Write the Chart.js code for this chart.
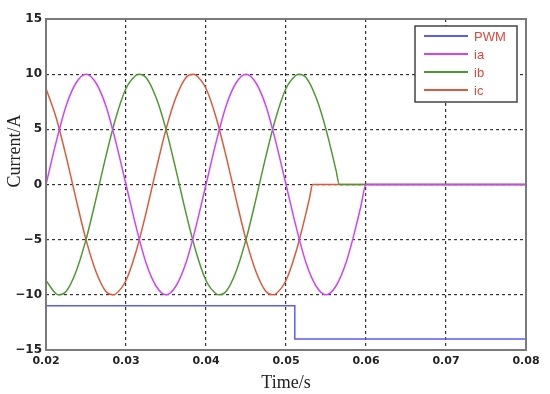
<!DOCTYPE html>
<html>
<head>
<meta charset="utf-8">
<script src="https://cdn.jsdelivr.net/npm/chart.js@4"></script>
<style>html,body{margin:0;padding:0;background:#fff}</style>
</head>
<body>
<canvas id="chart" width="550" height="394"></canvas>
<script>
// Data
const tA = [0.02, 0.02125, 0.0225, 0.02375, 0.025, 0.02625, 0.0275, 0.02875, 0.03, 0.03125, 0.0325,
    0.03375, 0.035, 0.03625, 0.0375, 0.03875, 0.04, 0.04125, 0.0425, 0.04375, 0.045, 0.04625, 0.0475,
    0.04875, 0.05, 0.05125, 0.0525, 0.05375, 0.055, 0.05625, 0.0575, 0.05875, 0.05938, 0.06, 0.08];
const ia = [0, 3.8, 7.1, 9.2, 10, 9.2, 7.1, 3.8, 0, -3.8, -7.1, -9.2, -10, -9.2, -7.1, -3.8, 0,
    3.8, 7.1, 9.2, 10, 9.2, 7.1, 3.8, 0, -3.8, -7.1, -9.2, -10, -9.2, -7.1, -3.8, -1.9, 0, 0];

const tB = [0.02, 0.02125, 0.02167, 0.0225, 0.02375, 0.025, 0.02625, 0.0275, 0.02875, 0.03, 0.03125,
    0.03167, 0.0325, 0.03375, 0.035, 0.03625, 0.0375, 0.03875, 0.04, 0.04125, 0.04167, 0.0425, 0.04375,
    0.045, 0.04625, 0.0475, 0.04875, 0.05, 0.05125, 0.05167, 0.0525, 0.05375, 0.055, 0.05625, 0.05667, 0.08];
const ib = [-8.7, -9.9, -10, -9.7, -7.9, -5.0, -1.3, 2.6, 6.1, 8.7, 9.9,
    10, 9.7, 7.9, 5.0, 1.3, -2.6, -6.1, -8.7, -9.9, -10, -9.7, -7.9,
    -5.0, -1.3, 2.6, 6.1, 8.7, 9.9, 10, 9.7, 7.9, 5.0, 1.3, 0, 0];

const tC = [0.02, 0.02125, 0.0225, 0.02375, 0.025, 0.02625, 0.0275, 0.02833, 0.02875, 0.03, 0.03125,
    0.0325, 0.03375, 0.035, 0.03625, 0.0375, 0.03833, 0.03875, 0.04, 0.04125, 0.0425, 0.04375, 0.045,
    0.04625, 0.0475, 0.04833, 0.04875, 0.05, 0.05125, 0.0525, 0.05292, 0.05333, 0.08];
const ic = [8.7, 6.1, 2.6, -1.3, -5.0, -7.9, -9.7, -10, -9.9, -8.7, -6.1,
    -2.6, 1.3, 5.0, 7.9, 9.7, 10, 9.9, 8.7, 6.1, 2.6, -1.3, -5.0,
    -7.9, -9.7, -10, -9.9, -8.7, -6.1, -2.6, -1.3, 0, 0];

const tPWM = [0.02, 0.0511, 0.0511, 0.08];
const pwm = [-11, -11, -14, -14];

const seriesNames = ['PWM', 'ia', 'ib', 'ic'];
const seriesColors = ['#5b5bf5', '#cc44ff', '#4f9a30', '#dd5a3c'];
const xTicks = [0.02, 0.03, 0.04, 0.05, 0.06, 0.07, 0.08];
const yTicks = [-15, -10, -5, 0, 5, 10, 15];

function pts(ts, vs) {
    return ts.map((t, i) => ({ x: t, y: vs[i] }));
}

// Frame, y title and the boxed legend inside the plot
const decorations = {
    id: 'decorations',
    afterDatasetsDraw(chart) {
        const { ctx, chartArea: a } = chart;
        ctx.save();
        ctx.strokeStyle = '#7a7a7a';
        ctx.lineWidth = 2;
        ctx.strokeRect(a.left, a.top, a.right - a.left, a.bottom - a.top);
        ctx.restore();
    },
    afterDraw(chart) {
        const { ctx } = chart;
        ctx.save();
        // y axis title
        ctx.translate(15, 151);
        ctx.rotate(-Math.PI / 2);
        ctx.font = '18px "Liberation Serif"';
        ctx.fillStyle = '#222';
        ctx.textAlign = 'center';
        ctx.textBaseline = 'middle';
        ctx.fillText('Current/A', 0, 0);
        ctx.restore();

        // legend
        ctx.save();
        ctx.fillStyle = '#fff';
        ctx.fillRect(415, 26, 102, 76);
        ctx.strokeStyle = '#444';
        ctx.lineWidth = 1.5;
        ctx.strokeRect(415, 26, 102, 76);
        ctx.font = '13px "Liberation Sans"';
        ctx.textBaseline = 'middle';
        chart.data.datasets.forEach((ds, i) => {
            const y = 36 + i * 18;
            ctx.strokeStyle = ds.borderColor;
            ctx.lineWidth = 2;
            ctx.beginPath();
            ctx.moveTo(424, y);
            ctx.lineTo(468, y);
            ctx.stroke();
            ctx.fillStyle = '#e0473a';
            ctx.fillText(ds.label, 474, y + 1);
        });
        ctx.restore();
    }
};

const lineStyle = { borderWidth: 1.5, pointRadius: 0, fill: false, cubicInterpolationMode: 'monotone' };

new Chart(document.getElementById('chart'), {
    type: 'line',
    data: {
        datasets: [
            { label: seriesNames[0], data: pts(tPWM, pwm), borderColor: seriesColors[0], borderWidth: 1.5, pointRadius: 0, tension: 0 },
            { label: seriesNames[1], data: pts(tA, ia), borderColor: seriesColors[1], ...lineStyle },
            { label: seriesNames[2], data: pts(tB, ib), borderColor: seriesColors[2], ...lineStyle },
            { label: seriesNames[3], data: pts(tC, ic), borderColor: seriesColors[3], ...lineStyle }
        ]
    },
    options: {
        responsive: false,
        animation: false,
        layout: { padding: { top: 19, right: 24, left: 0, bottom: 0 } },
        plugins: { legend: { display: false }, tooltip: { enabled: false } },
        scales: {
            x: {
                type: 'linear',
                min: 0.02,
                max: 0.08,
                afterBuildTicks: scale => { scale.ticks = xTicks.map(v => ({ value: v })); },
                afterFit: scale => { scale.height = 44; },
                ticks: {
                    callback: v => v.toFixed(2),
                    font: { family: 'DejaVu Sans', size: 11, weight: 'bold' },
                    color: '#222',
                    padding: 5,
                    maxRotation: 0
                },
                grid: { color: '#333', lineWidth: 1.2, drawTicks: false },
                border: { display: false, dash: [3, 3] },
                title: {
                    display: true,
                    text: 'Time/s',
                    font: { family: 'Liberation Serif', size: 18 },
                    color: '#222',
                    padding: { top: 0, bottom: 0 }
                }
            },
            y: {
                min: -15,
                max: 15,
                afterBuildTicks: scale => { scale.ticks = yTicks.map(v => ({ value: v })); },
                afterFit: scale => { scale.width = 46; },
                ticks: {
                    callback: v => (v < 0 ? '\u2212' + Math.abs(v) : String(v)),
                    font: { family: 'DejaVu Sans', size: 12, weight: 'bold' },
                    color: '#222',
                    padding: 4
                },
                grid: { color: '#333', lineWidth: 1.2, drawTicks: false },
                border: { display: false, dash: [3, 3] }
            }
        }
    },
    plugins: [decorations]
});
</script>
</body>
</html>
